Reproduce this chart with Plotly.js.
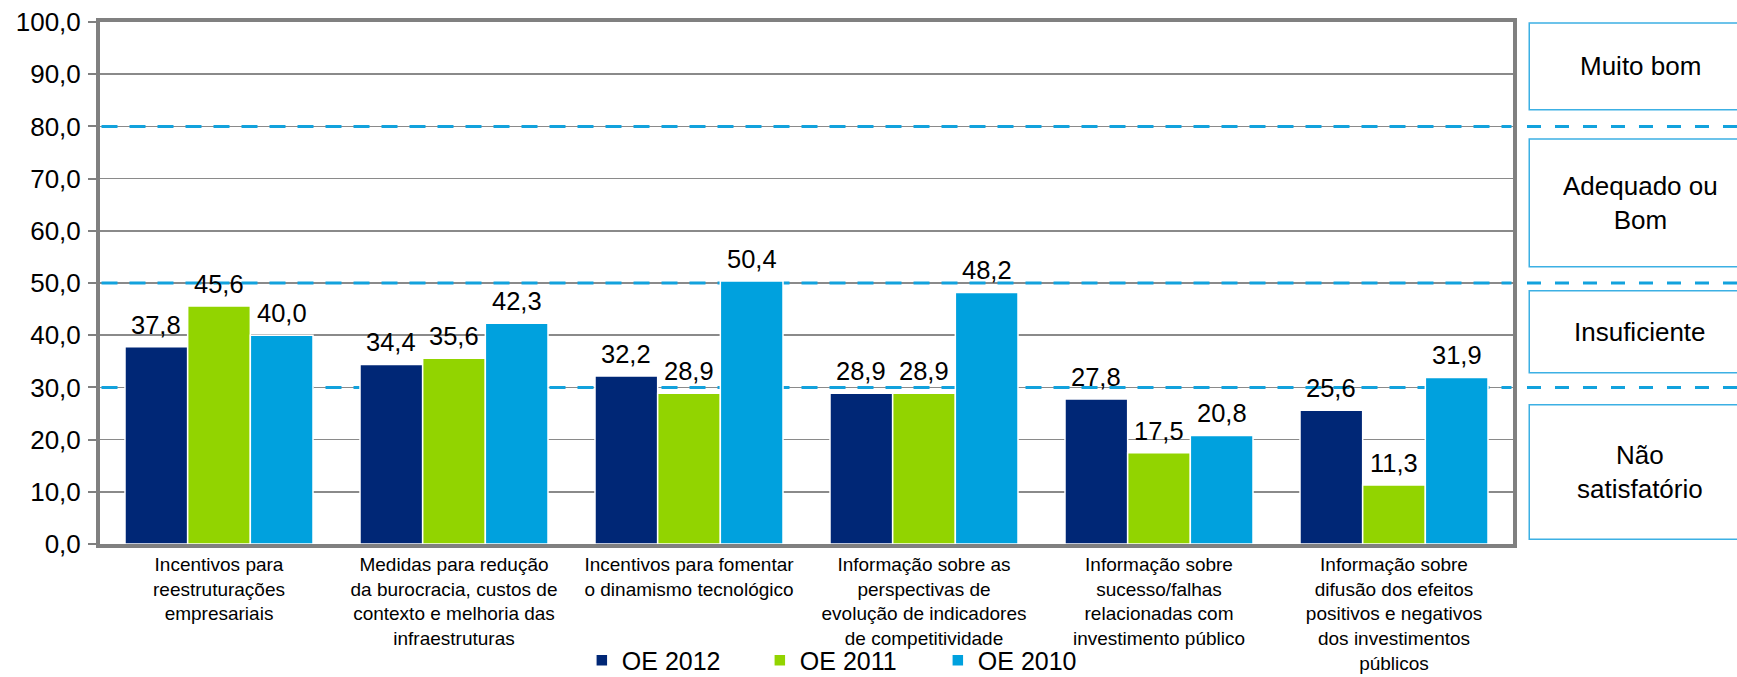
<!DOCTYPE html>
<html>
<head>
<meta charset="utf-8">
<script src="https://cdn.plot.ly/plotly-3.0.1.min.js"></script>
<style>html,body{margin:0;padding:0;background:#fff;}</style>
</head>
<body>
<div id="chart" style="width:1737px;height:677px;"></div>
<script>
const categories = [
  "Incentivos para<br>reestruturações<br>empresariais",
  "Medidas para redução<br>da burocracia, custos de<br>contexto e melhoria das<br>infraestruturas",
  "Incentivos para fomentar<br>o dinamismo tecnológico",
  "Informação sobre as<br>perspectivas de<br>evolução de indicadores<br>de competitividade",
  "Informação sobre<br>sucesso/falhas<br>relacionadas com<br>investimento público",
  "Informação sobre<br>difusão dos efeitos<br>positivos e negativos<br>dos investimentos<br>públicos"
];
const seriesNames = ["OE 2012", "OE 2011", "OE 2010"];
const oe2012 = [37.8, 34.4, 32.2, 28.9, 27.8, 25.6];
const oe2011 = [45.6, 35.6, 28.9, 28.9, 17.5, 11.3];
const oe2010 = [40.0, 42.3, 50.4, 48.2, 20.8, 31.9];
const thresholds = [80, 50, 30];
const bands = [
  {label: "Muito bom", from: 83.2, to: 99.8},
  {label: "Adequado ou<br>Bom", from: 53.1, to: 77.6},
  {label: "Insuficiente", from: 32.8, to: 48.5},
  {label: "Não<br>satisfatório", from: 0.9, to: 26.7}
];

const colors = ["#002776", "#92D400", "#00A1DE"];
const values = [oe2012, oe2011, oe2010];
const FONT = "Liberation Sans, Arial, sans-serif";
const bargap = 0.2;

const traces = values.map((v, j) => ({
  type: "bar",
  name: seriesNames[j],
  x: categories,
  y: v,
  marker: {color: colors[j], line: {color: "#ffffff", width: 1.5}},
  hoverinfo: "skip"
}));

const annotations = [];
const slot = (1 - bargap) / values.length;
values.forEach((v, j) => {
  v.forEach((val, i) => {
    annotations.push({
      x: i + (j - (values.length - 1) / 2) * slot,
      y: val,
      xref: "x", yref: "y",
      text: val.toFixed(1).replace(".", ","),
      showarrow: false,
      yanchor: "bottom",
      yshift: 6,
      font: {family: FONT, size: 25.5, color: "#000"}
    });
  });
});

const shapes = [];
const dashColor = "#12A2DD";
thresholds.forEach(t => {
  shapes.push({
    type: "line", xref: "x", yref: "y",
    x0: -0.5, x1: categories.length - 0.5, y0: t, y1: t,
    line: {color: dashColor, width: 3, dash: "16px,12px"},
    layer: "between"
  });
  shapes.push({
    type: "line", xref: "paper", yref: "y",
    x0: 1.0099, x1: 1.17, y0: t, y1: t,
    line: {color: dashColor, width: 3, dash: "14px,14px"}
  });
});
bands.forEach(b => {
  shapes.push({
    type: "rect", xref: "paper", yref: "y",
    x0: 1.0115, x1: 1.17, y0: b.from, y1: b.to,
    line: {color: "#3CB0E4", width: 1.5},
    fillcolor: "rgba(0,0,0,0)"
  });
  annotations.push({
    xref: "paper", yref: "y",
    x: 1.0899, y: (b.from + b.to) / 2,
    text: b.label, showarrow: false,
    xanchor: "center", yanchor: "middle", align: "center",
    font: {family: FONT, size: 26, color: "#000"}
  });
});

const layout = {
  width: 1737, height: 677,
  margin: {l: 100, r: 224, t: 22, b: 133, autoexpand: false},
  paper_bgcolor: "#fff", plot_bgcolor: "#fff",
  separators: ",.",
  barmode: "group", bargap: bargap, bargroupgap: 0,
  font: {family: FONT, color: "#000"},
  showlegend: true,
  legend: {
    orientation: "h", x: 0.341, xanchor: "left", y: -0.223, yanchor: "middle",
    font: {family: FONT, size: 25, color: "#000"},
    traceorder: "normal", entrywidth: 133, entrywidthmode: "pixels",
    bgcolor: "rgba(0,0,0,0)"
  },
  xaxis: {
    type: "category",
    showline: true, mirror: true, linecolor: "#808080", linewidth: 4,
    ticks: "", showgrid: false,
    tickfont: {family: FONT, size: 19, color: "#000"}
  },
  yaxis: {
    range: [0, 100], dtick: 10, tick0: 0, tickformat: ".1f",
    showgrid: true, gridcolor: "#8a8a8a", gridwidth: 1.5, zeroline: false,
    showline: true, mirror: true, linecolor: "#808080", linewidth: 4,
    ticks: "outside", ticklen: 8, tickwidth: 2, tickcolor: "#808080",
    ticklabelstandoff: 2,
    tickfont: {family: FONT, size: 26, color: "#000"}
  },
  shapes: shapes,
  annotations: annotations
};

Plotly.newPlot("chart", traces, layout, {displayModeBar: false, staticPlot: true});
</script>
</body>
</html>
